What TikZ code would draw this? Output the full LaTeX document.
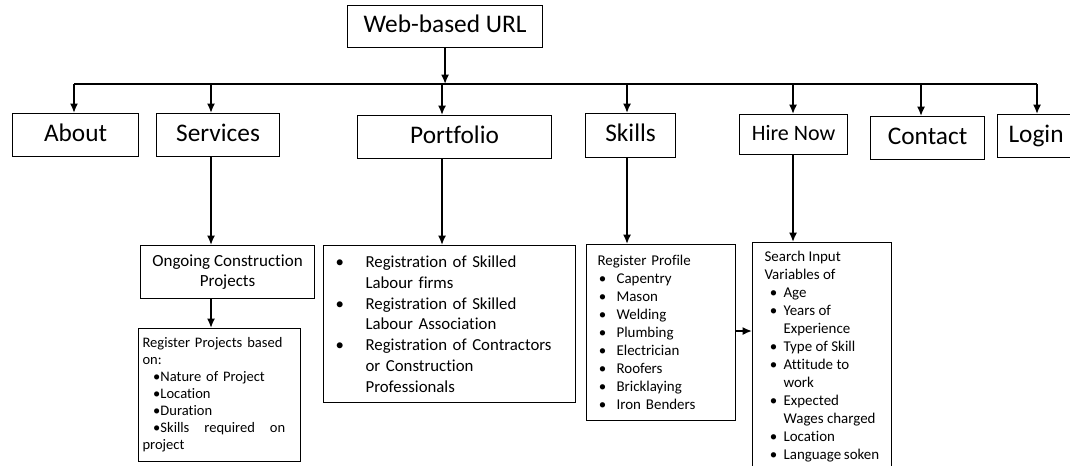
\documentclass[tikz,border=0pt]{standalone}
\usepackage{fontspec}
\setmainfont{Carlito}[Ligatures={NoCommon,NoContextual},RawFeature={-liga;-clig}]
\usetikzlibrary{arrows.meta}
\begin{document}
\begin{tikzpicture}[x=0.75pt,y=-0.75pt,
  box/.style={draw, line width=0.85pt, inner sep=0pt, anchor=north west, align=center},
  big/.style={font=\fontsize{19}{23}\selectfont, text height=13pt, text depth=4pt},
  arr/.style={line width=1.3pt, -{Latex[length=7pt,width=6pt]}},
  busline/.style={line width=1.7pt},
  ]
\useasboundingbox (0,0) rectangle (1070,465);
\clip (0,0) rectangle (1070,465);
% top level
\node[box, big, minimum width=146.25pt, minimum height=31.5pt] (url) at (347,5) {Web-based URL};
\node[box, big, minimum width=94.5pt, minimum height=32.25pt] (about) at (12,113) {About};
\node[box, big, minimum width=92.25pt, minimum height=32.25pt] (services) at (156,113) {Services};
\node[box, big, minimum width=145.5pt, minimum height=32.25pt] (portfolio) at (357,115) {Portfolio};
\node[box, big, minimum width=67.5pt, minimum height=33pt] (skills) at (585,113) {Skills};
\node[box, font=\fontsize{16.5}{20}\selectfont, text height=11.5pt, text depth=2pt, minimum width=81pt, minimum height=30pt] (hire) at (739,114) {Hire Now};
\node[box, big, minimum width=85.5pt, minimum height=32.25pt] (contact) at (870,116) {Contact};
\node[box, big, minimum width=57.75pt, minimum height=32.25pt] (login) at (997,114) {Login};
% second level
\node[box, font=\fontsize{12.75}{15}\selectfont, minimum width=130.5pt, minimum height=39.75pt] (ongoing) at (140,245) {Ongoing Construction\\Projects};
\node[box, align=left, font=\fontsize{10.9}{12.75}\selectfont, text width=115.5pt, inner xsep=3pt, minimum height=99.75pt] (regproj) at (138,328)
 {Register Projects based\\on:\\
  \hspace*{8pt}•Nature of Project\\
  \hspace*{8pt}•Location\\
  \hspace*{8pt}•Duration\\
  \hspace*{8pt}\makebox[99pt][l]{•Skills\hfill required\hfill on}\\
  project};
\node[box, align=left, font=\fontsize{12.6}{15.6}\selectfont, text width=171pt, inner xsep=9pt, minimum height=117.75pt] (plist) at (323,245)
 {\makebox[22.5pt][l]{•}Registration of Skilled\\
  \hspace*{22.5pt}Labour firms\\
  \makebox[22.5pt][l]{•}Registration of Skilled\\
  \hspace*{22.5pt}Labour Association\\
  \makebox[22.5pt][l]{•}Registration of Contractors\\
  \hspace*{22.5pt}or Construction\\
  \hspace*{22.5pt}Professionals};
\node[box, align=left, font=\fontsize{11.2}{13.5}\selectfont, text width=95pt, inner xsep=8.25pt, minimum height=132pt] (profile) at (586,244)
 {Register Profile\\
  \hspace*{1pt}\makebox[13.25pt][l]{•}Capentry\\
  \hspace*{1pt}\makebox[13.25pt][l]{•}Mason\\
  \hspace*{1pt}\makebox[13.25pt][l]{•}Welding\\
  \hspace*{1pt}\makebox[13.25pt][l]{•}Plumbing\\
  \hspace*{1pt}\makebox[13.25pt][l]{•}Electrician\\
  \hspace*{1pt}\makebox[13.25pt][l]{•}Roofers\\
  \hspace*{1pt}\makebox[13.25pt][l]{•}Bricklaying\\
  \hspace*{1pt}\makebox[13.25pt][l]{•}Iron Benders};
\node[box, align=left, font=\fontsize{11.2}{13.5}\selectfont, inner xsep=9pt, inner ysep=0pt] (search) at (752,242)
 {\parbox[c][180pt][t]{86pt}{\vspace{6.5pt}\fontsize{11.2}{13.5}\selectfont
  Search Input\\
  Variables of\\
  \hspace*{4pt}\makebox[10.25pt][l]{•}Age\\
  \hspace*{4pt}\makebox[10.25pt][l]{•}Years of\\
  \hspace*{14.25pt}Experience\\
  \hspace*{4pt}\makebox[10.25pt][l]{•}Type of Skill\\
  \hspace*{4pt}\makebox[10.25pt][l]{•}Attitude to\\
  \hspace*{14.25pt}work\\
  \hspace*{4pt}\makebox[10.25pt][l]{•}Expected\\
  \hspace*{14.25pt}Wages charged\\
  \hspace*{4pt}\makebox[10.25pt][l]{•}Location\\
  \hspace*{4pt}\makebox[10.25pt][l]{•}Language soken}};
% coordinates
\coordinate (b1) at (74,84);
\coordinate (b2) at (211,84);
\coordinate (b3) at (442,84);
\coordinate (b4) at (627,84);
\coordinate (b5) at (793,84);
\coordinate (b6) at (921,84);
\coordinate (b7) at (1037,84);
\coordinate (h) at (0,331);
% connectors
\draw[busline] (b1) -- (b7);
\draw[arr] (url.south) -- (url.south |- b1);
\draw[arr] (b1) -- (b1 |- about.north);
\draw[arr] (b2) -- (b2 |- services.north);
\draw[arr] (b3) -- (b3 |- portfolio.north);
\draw[arr] (b4) -- (b4 |- skills.north);
\draw[arr] (b5) -- (b5 |- hire.north);
\draw[arr] (b6) -- (b6 |- contact.north);
\draw[arr] (b7) -- (b7 |- login.north);
\draw[arr] (services.south -| b2) -- (ongoing.north -| b2);
\draw[arr] (ongoing.south -| b2) -- (regproj.north -| b2);
\draw[arr] (portfolio.south -| b3) -- (plist.north -| b3);
\draw[arr] (skills.south -| b4) -- (profile.north -| b4);
\draw[arr] (hire.south -| b5) -- (search.north -| b5);
\draw[arr] (profile.east |- h) -- (search.west |- h);
\end{tikzpicture}
\end{document}
